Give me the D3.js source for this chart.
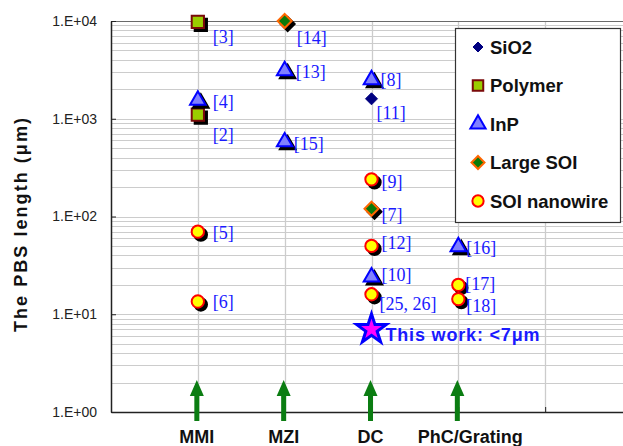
<!DOCTYPE html>
<html>
<head>
<meta charset="utf-8">
<script src="https://cdn.jsdelivr.net/npm/d3@7"></script>
<style>
  html, body { margin: 0; padding: 0; background: #fff; }
  svg { display: block; }
</style>
</head>
<body>
<svg id="chart" width="623" height="446"></svg>
<script>
// ---- data ----
const categories = ["MMI", "MZI", "DC", "PhC/Grating"];
const yTickValues = [1, 10, 100, 1000, 10000];
const yTickLabels = ["1.E+00", "1.E+01", "1.E+02", "1.E+03", "1.E+04"];

const sio2Cats = ["DC"];
const sio2Vals = [1600];
const sio2Refs = ["[11]"];

const polymerCats = ["MMI", "MMI"];
const polymerVals = [9800, 1100];
const polymerRefs = ["[3]", "[2]"];

const inpCats = ["MMI", "MZI", "MZI", "DC", "DC", "PhC/Grating"];
const inpVals = [1550, 3100, 580, 2500, 24, 49];
const inpRefs = ["[4]", "[13]", "[15]", "[8]", "[10]", "[16]"];

const largeSoiCats = ["MZI", "DC"];
const largeSoiVals = [10000, 120];
const largeSoiRefs = ["[14]", "[7]"];

const nanowireCats = ["MMI", "MMI", "DC", "DC", "DC", "PhC/Grating", "PhC/Grating"];
const nanowireVals = [70, 13.5, 240, 50, 16, 20, 14.3];
const nanowireRefs = ["[5]", "[6]", "[9]", "[12]", "[25, 26]", "[17]", "[18]"];

const thisWorkCat = "DC";
const thisWorkVal = 7;
const thisWorkText = "This work: <7\u03bcm";

const legendNames = ["SiO2", "Polymer", "InP", "Large SOI", "SOI nanowire"];

// ---- layout ----
const svg = d3.select("#chart");
const W = 623, H = 446;
const plot = { left: 111, right: 632, top: 21, bottom: 412 };

// positions 1..4 are the categories; 0 is the left axis, 5 and 6 are empty slots
const x = d3.scaleLinear().domain([0, 6]).range([plot.left, plot.right]);
const y = d3.scaleLog().domain([1, 10000]).range([plot.bottom, plot.top]);
const catX = c => x(categories.indexOf(c) + 1);

// label placement relative to each marker (dx, dy)
const labelOffset = {
  "[3]": [15, 15], "[4]": [15, 2], "[2]": [15, 20], "[5]": [15, 1], "[6]": [15, 0],
  "[14]": [12, 17], "[13]": [11, 1], "[15]": [9, 2],
  "[8]": [9, 0], "[11]": [5, 14], "[9]": [10, 3], "[7]": [10, 6], "[12]": [10, -3],
  "[10]": [10, -2], "[25, 26]": [8, 10],
  "[16]": [8, 1], "[17]": [7, -1], "[18]": [8, 7]
};

svg.append("rect").attr("width", W).attr("height", H).attr("fill", "#fff");

// ---- grid ----
const grid = svg.append("g");
const minorVals = [];
for (let d = 1; d < 10000; d *= 10) for (let k = 1; k <= 9; k++) minorVals.push(d * k);
minorVals.push(10000);
grid.selectAll("line.h").data(minorVals).join("line")
  .attr("x1", plot.left).attr("x2", plot.right)
  .attr("y1", d => Math.round(y(d)) + 0.5).attr("y2", d => Math.round(y(d)) + 0.5)
  .attr("stroke", "#cccccc").attr("stroke-width", 1.2);

grid.selectAll("line.v").data([1, 2, 3, 4, 5]).join("line")
  .attr("x1", d => Math.round(x(d)) + 0.5).attr("x2", d => Math.round(x(d)) + 0.5)
  .attr("y1", plot.top).attr("y2", plot.bottom)
  .attr("stroke", "#cccccc").attr("stroke-width", 1.3);

// top border
svg.append("line")
  .attr("x1", plot.left).attr("x2", plot.right)
  .attr("y1", plot.top + 0.5).attr("y2", plot.top + 0.5)
  .attr("stroke", "#6a6a6a").attr("stroke-width", 1.2);

// ---- axes ----
const yAxis = d3.axisLeft(y).tickValues(yTickValues)
  .tickFormat((d, i) => yTickLabels[i]).tickSizeInner(-5).tickSizeOuter(0).tickPadding(14);
const gy = svg.append("g").attr("transform", `translate(${plot.left},0)`).call(yAxis);
gy.select(".domain").attr("stroke", "#222").attr("stroke-width", 1.5);
gy.selectAll(".tick line").attr("stroke", "#222");
gy.selectAll(".tick text")
  .attr("font-family", "Liberation Sans, Arial, sans-serif")
  .attr("font-size", 14).attr("fill", "#222");

const xAxis = d3.axisBottom(x).tickValues([1, 2, 3, 4, 5]).tickFormat("")
  .tickSizeInner(-5).tickSizeOuter(0);
const gx = svg.append("g").attr("transform", `translate(0,${plot.bottom})`).call(xAxis);
gx.select(".domain").attr("stroke", "#222").attr("stroke-width", 1.5);
gx.selectAll(".tick line").attr("stroke", "#222");

// y title
svg.append("text")
  .attr("transform", "translate(27,225) rotate(-90)")
  .attr("text-anchor", "middle")
  .attr("font-family", "Liberation Sans, Arial, sans-serif")
  .attr("font-weight", "bold").attr("font-size", 18)
  .attr("textLength", 214).attr("lengthAdjust", "spacing")
  .attr("fill", "#111")
  .text("The PBS length (\u03bcm)");

// category labels
const catLabelShift = { "PhC/Grating": 13 };
svg.selectAll("text.cat").data(categories).join("text")
  .attr("x", d => catX(d) - 1 + (catLabelShift[d] || 0))
  .attr("y", 443)
  .attr("text-anchor", "middle")
  .attr("font-family", "Liberation Sans, Arial, sans-serif")
  .attr("font-weight", "bold").attr("font-size", 18)
  .attr("fill", "#111")
  .text(d => d);

// green arrows
const arrowG = svg.append("g");
categories.forEach(c => {
  const cx = catX(c) - 1;
  arrowG.append("path")
    .attr("d", `M${cx - 2.5},421 L${cx - 2.5},396 L${cx - 7},396 L${cx},380 L${cx + 7},396 L${cx + 2.5},396 L${cx + 2.5},421 Z`)
    .attr("fill", "#0b7d12");
});

// ---- markers ----
// a square turned on its corner, half-diagonal r
const diamondPath = r => `M0,${-r}L${r},0L0,${r}L${-r},0Z`;
const symSquare = () => d3.symbol().type(d3.symbolSquare).size(150)();
const symTriangle = () => d3.symbol().type(d3.symbolTriangle).size(105)();
const symDiamond = () => diamondPath(7);
const symDiamondSm = () => diamondPath(6);
const symCircle = () => d3.symbol().type(d3.symbolCircle).size(120)();
const symStar = d3.symbol().type(d3.symbolStar).size(270);

const styles = {
  "SiO2": { sym: symDiamondSm, fill: "#000080", stroke: "#000080", sw: 1, shadow: false },
  "Polymer": { sym: symSquare, fill: "#9acd00", stroke: "#7a0a0a", sw: 2, shadow: true },
  "InP": { sym: symTriangle, fill: "#8080ff", stroke: "#0000ff", sw: 2, shadow: true },
  "Large SOI": { sym: symDiamond, fill: "#0a7a0a", stroke: "#ff6600", sw: 2, shadow: true },
  "SOI nanowire": { sym: symCircle, fill: "#ffff00", stroke: "#ff0000", sw: 2, shadow: true }
};

const seriesList = [
  { name: "SiO2", cats: sio2Cats, vals: sio2Vals, refs: sio2Refs },
  { name: "Polymer", cats: polymerCats, vals: polymerVals, refs: polymerRefs },
  { name: "InP", cats: inpCats, vals: inpVals, refs: inpRefs },
  { name: "Large SOI", cats: largeSoiCats, vals: largeSoiVals, refs: largeSoiRefs },
  { name: "SOI nanowire", cats: nanowireCats, vals: nanowireVals, refs: nanowireRefs }
];

const markG = svg.append("g");
const labelG = svg.append("g");
seriesList.forEach(s => {
  const st = styles[s.name];
  const pts = s.vals.map((v, i) => ({ x: catX(s.cats[i]), y: y(v), ref: s.refs[i] }));
  if (st.shadow) {
    markG.selectAll(null).data(pts).join("path")
      .attr("d", st.sym())
      .attr("transform", d => `translate(${d.x + 3},${d.y + 3})`)
      .attr("fill", "#000").attr("stroke", "#000").attr("stroke-width", st.sw);
  }
  markG.selectAll(null).data(pts).join("path")
    .attr("d", st.sym())
    .attr("transform", d => `translate(${d.x},${d.y})`)
    .attr("fill", st.fill).attr("stroke", st.stroke).attr("stroke-width", st.sw);
  labelG.selectAll(null).data(pts).join("text")
    .attr("x", d => d.x + labelOffset[d.ref][0])
    .attr("y", d => d.y + labelOffset[d.ref][1])
    .attr("dominant-baseline", "central")
    .attr("font-family", "Liberation Serif, Times New Roman, serif")
    .attr("font-size", 18).attr("fill", "#1a1aff")
    .text(d => d.ref);
});

// this work
const twX = catX(thisWorkCat), twY = y(thisWorkVal);
markG.append("path")
  .attr("d", symStar())
  .attr("transform", `translate(${twX},${twY})`)
  .attr("fill", "#ff00ff").attr("stroke", "#0000ff").attr("stroke-width", 3)
  .attr("stroke-linejoin", "miter");
labelG.append("text")
  .attr("x", twX + 14).attr("y", twY + 6)
  .attr("dominant-baseline", "central")
  .attr("font-family", "Liberation Sans, Arial, sans-serif")
  .attr("font-weight", "bold").attr("font-size", 18).attr("fill", "#1a1aff")
  .attr("textLength", 154).attr("lengthAdjust", "spacing")
  .text(thisWorkText);

// ---- legend ----
const lg = svg.append("g").attr("transform", "translate(455,28)");
lg.append("rect").attr("x", 0.5).attr("y", 0.5).attr("width", 165).attr("height", 194)
  .attr("fill", "#fff").attr("stroke", "#333").attr("stroke-width", 1.2);
const legendSyms = {
  "SiO2": () => diamondPath(5),
  "Polymer": () => d3.symbol().type(d3.symbolSquare).size(110)(),
  "InP": () => d3.symbol().type(d3.symbolTriangle).size(100)(),
  "Large SOI": () => diamondPath(6.5),
  "SOI nanowire": () => d3.symbol().type(d3.symbolCircle).size(100)()
};
legendNames.forEach((n, i) => {
  const ly = 19 + i * 38.5;
  const st = styles[n];
  lg.append("path").attr("d", legendSyms[n]())
    .attr("transform", `translate(23,${ly})`)
    .attr("fill", st.fill).attr("stroke", st.stroke).attr("stroke-width", st.sw);
  lg.append("text").attr("x", 35).attr("y", ly)
    .attr("dominant-baseline", "central")
    .attr("font-family", "Liberation Sans, Arial, sans-serif")
    .attr("font-weight", "bold").attr("font-size", 18.5).attr("fill", "#111")
    .text(n);
});
</script>
</body>
</html>
